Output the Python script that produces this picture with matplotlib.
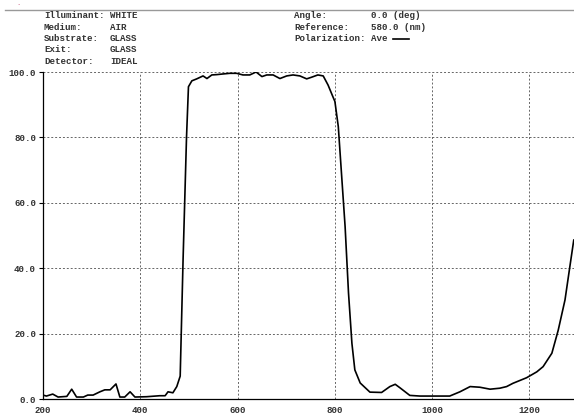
import numpy as np
import matplotlib
matplotlib.use('Agg')
import matplotlib.pyplot as plt

# wavelength (nm) and transmittance (%)
wavelength = [200, 207, 220, 231, 249, 259, 269, 283, 292, 303, 317, 327, 338,
              350, 358, 368, 379, 389, 413, 440, 451, 457, 467, 475, 482, 488,
              495, 499, 506, 516, 529, 537, 547, 557, 570, 584, 598, 611, 625,
              638, 650, 660, 673, 687, 701, 714, 728, 742, 752, 765, 776, 786,
              796, 800, 807, 814, 821, 828, 835, 841, 852, 872, 896, 913, 924,
              934, 954, 975, 1036, 1057, 1078, 1098, 1119, 1139, 1153, 1166,
              1194, 1215, 1228, 1246, 1259, 1273, 1283, 1291]
transmit = [1.2, 0.9, 1.5, 0.6, 0.8, 3.0, 0.6, 0.6, 1.2, 1.2, 2.2, 2.8, 2.8,
            4.6, 0.6, 0.6, 2.2, 0.6, 0.7, 1.0, 1.0, 2.2, 1.9, 3.8, 7.0, 43.0,
            80.0, 95.5, 97.3, 97.9, 98.8, 98.0, 99.1, 99.2, 99.4, 99.6, 99.6,
            99.1, 99.1, 100.0, 98.6, 99.1, 99.1, 98.0, 98.8, 99.1, 98.8, 97.9,
            98.4, 99.1, 98.8, 96.0, 92.4, 91.0, 83.3, 68.0, 52.7, 32.4, 17.0,
            8.9, 4.9, 2.1, 2.0, 3.8, 4.5, 3.4, 1.1, 0.9, 0.9, 2.2, 3.8, 3.6,
            3.0, 3.3, 3.8, 4.8, 6.5, 8.3, 9.9, 14.0, 21.0, 30.3, 40.5, 48.6]

xticks = [200, 400, 600, 800, 1000, 1200]
yticks = [0, 20, 40, 60, 80, 100]

left_info = [("Illuminant:", "WHITE"), ("Medium:", "AIR"), ("Substrate:", "GLASS"),
             ("Exit:", "GLASS"), ("Detector:", "IDEAL")]
right_info = [("Angle:", "0.0 (deg)"), ("Reference:", "580.0 (nm)"),
              ("Polarization:", "Ave")]

W, H = 574, 415
mono = dict(family='Liberation Mono', fontsize=6.6, weight='bold', color='#333333')

fig = plt.figure(figsize=(W / 100, H / 100), dpi=100)
ax = fig.add_axes([43 / W, 16 / H, 1 - 43 / W, (399 - 72) / H])

ax.plot(wavelength, transmit, color='black', lw=1.2, zorder=3)

ax.set_xlim(200, 1291.5)
ax.set_ylim(0, 100)
ax.set_xticks(xticks)
ax.set_xticklabels([str(v) for v in xticks], **mono)
ax.set_yticks(yticks)
ax.set_yticklabels(['%.1f' % v for v in yticks], **mono)
ax.tick_params(axis='x', length=0, pad=5)
ax.tick_params(axis='y', length=3, width=0.8, pad=2)

for v in xticks[1:]:
    ax.axvline(v, color='#666666', lw=0.7, ls=(0, (2, 2)), zorder=1)
for v in yticks[1:]:
    ax.axhline(v, color='#666666', lw=0.7, ls=(0, (2, 2)), zorder=1, clip_on=False)

for s in ['top', 'right']:
    ax.spines[s].set_visible(False)
for s in ['left', 'bottom']:
    ax.spines[s].set_linewidth(0.9)
    ax.spines[s].set_color('black')

# header
fig.add_artist(plt.Line2D([5 / W, 1], [1 - 10.5 / H] * 2, color='#999999', lw=1.0))
fig.text(18 / W, 1 - 3 / H, '.', color='#c03060', fontsize=5, ha='center', va='center')

for i, (k, v) in enumerate(left_info):
    y = 1 - (16 + i * 11.3) / H
    fig.text(44 / W, y, k, ha='left', va='center', **mono)
    fig.text(110 / W, y, v, ha='left', va='center', **mono)
for i, (k, v) in enumerate(right_info):
    y = 1 - (16 + i * 11.3) / H
    fig.text(294 / W, y, k, ha='left', va='center', **mono)
    fig.text(371 / W, y, v, ha='left', va='center', **mono)
fig.add_artist(plt.Line2D([393 / W, 409 / W], [1 - 39 / H] * 2, color='black', lw=1.2))

fig.savefig('out.png', dpi=100)
